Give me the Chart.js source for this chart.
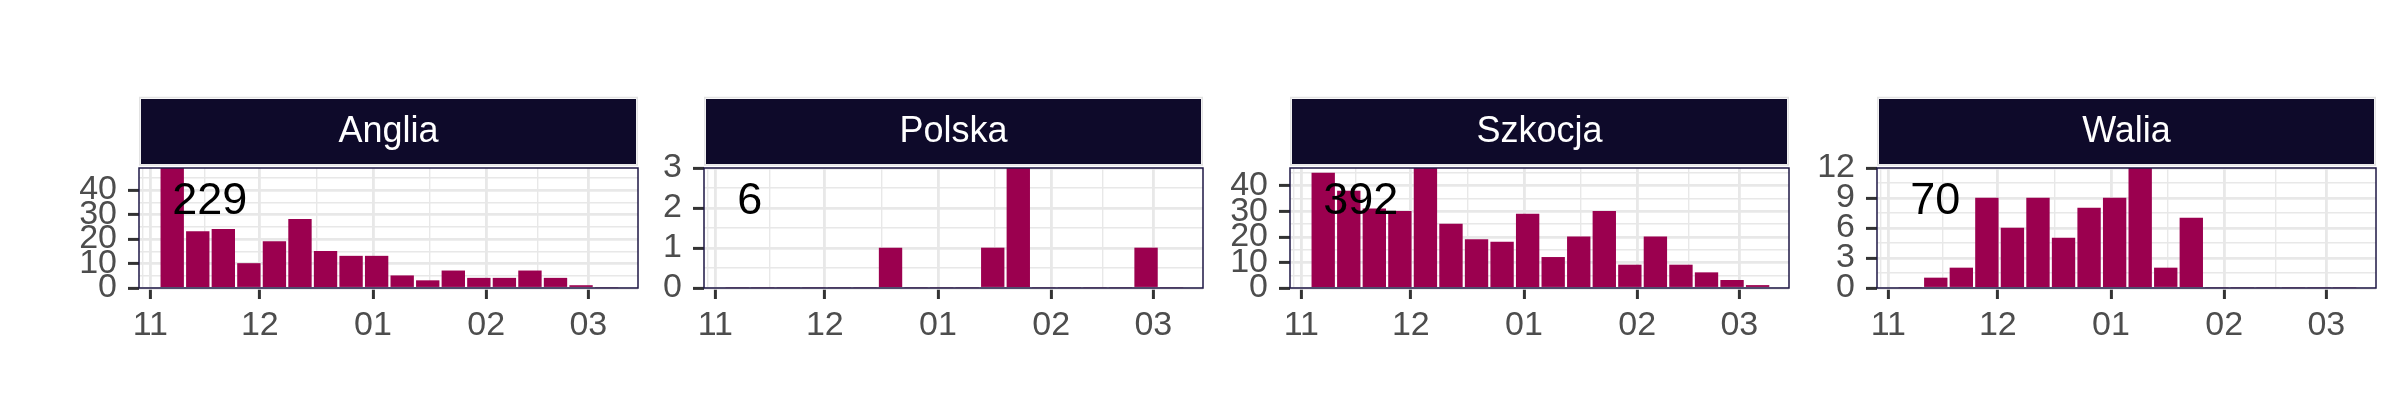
<!DOCTYPE html>
<html>
<head>
<meta charset="utf-8">
<script src="https://cdn.jsdelivr.net/npm/chart.js@4.4.1/dist/chart.umd.min.js"></script>
<style>
	html, body { margin: 0; padding: 0; background: #fff; }
	body { width: 2400px; height: 420px; position: relative; overflow: hidden; }
	canvas { position: absolute; top: 90px; }
</style>
</head>
<body>
<script>
// facets
const countries = ['Anglia', 'Polska', 'Szkocja', 'Walia']
// weekly bins (middle day of each week)
const weekMids = [
	'2020-11-07', '2020-11-14', '2020-11-21', '2020-11-28', '2020-12-05', '2020-12-12',
	'2020-12-19', '2020-12-26', '2021-01-02', '2021-01-09', '2021-01-16', '2021-01-23',
	'2021-01-30', '2021-02-06', '2021-02-13', '2021-02-20', '2021-02-27', '2021-03-06',
]
// counts per week
const anglia = [49, 23, 24, 10, 19, 28, 15, 13, 13, 5, 3, 7, 4, 4, 7, 4, 1, 0]
const polska = [0, 0, 0, 0, 0, 0, 1, 0, 0, 0, 1, 3, 0, 0, 0, 0, 1, 0]
const szkocja = [45, 38, 31, 30, 47, 25, 19, 18, 29, 12, 20, 30, 9, 20, 9, 6, 3, 1]
const walia = [0, 1, 2, 9, 6, 9, 5, 8, 9, 12, 2, 7, 0, 0, 0, 0, 0, 0]
const totals = [229, 6, 392, 70]

// axis ticks
const monthTicks = ['2020-11-01', '2020-12-01', '2021-01-01', '2021-02-01', '2021-03-01']
const monthLabels = ['11', '12', '01', '02', '03']
const xStart = '2020-10-29'
const yTicksAnglia = [0, 10, 20, 30, 40]
const yTicksPolska = [0, 1, 2, 3]
const yTicksSzkocja = [0, 10, 20, 30, 40]
const yTicksWalia = [0, 3, 6, 9, 12]

const font = '"Liberation Sans", Arial, sans-serif'
const barColor = '#9b004f'
const gridColor = '#e8e8e8'

function dayOf(s) {
	return (Date.parse(s + 'T00:00:00Z') - Date.parse(monthTicks[0] + 'T00:00:00Z')) / 86400000
}

const xMajor = monthTicks.map(dayOf)
// minor gridlines half way between months, plus the one ggplot left near the edge
const xMinor = [dayOf(xStart) + 1].concat(xMajor.slice(1).map((v, i) => (v + xMajor[i]) / 2))
const xMin = dayOf(xStart) - 0.1
const xMax = 133.6

function minorOf(ticks, max) {
	const step = ticks[1] - ticks[0]
	return ticks.map(t => t + step / 2).filter(t => t <= max)
}

// strip, panel border and the total label
const panelDeco = {
	id: 'panelDeco',
	afterDatasetsDraw(chart, args, opts) {
		const { ctx, chartArea: a, scales } = chart
		ctx.save()
		ctx.strokeStyle = '#1e1745'
		ctx.lineWidth = 1.5
		ctx.strokeRect(a.left, a.top, a.right - a.left, a.bottom - a.top)
		// strip
		ctx.strokeStyle = '#e3e3e3'
		ctx.strokeRect(a.left + 0.75, a.top - 70.5, a.right - a.left - 1.5, 67.5)
		ctx.fillStyle = '#0e0a2a'
		ctx.fillRect(a.left + 2, a.top - 69, a.right - a.left - 4, 65)
		ctx.fillStyle = '#ffffff'
		ctx.font = `36px ${font}`
		ctx.textAlign = 'center'
		ctx.textBaseline = 'middle'
		ctx.fillText(opts.title, (a.left + a.right) / 2, a.top - 36)
		// total
		ctx.fillStyle = '#000000'
		ctx.font = `45px ${font}`
		ctx.textAlign = 'left'
		ctx.fillText(opts.total, scales.x.getPixelForValue(dayOf(weekMids[0])), scales.y.getPixelForValue(opts.labelY))
		ctx.restore()
	},
}

function drawPanel(idx, values, yTicks, left) {
	const canvas = document.createElement('canvas')
	canvas.width = 579
	canvas.height = 270
	canvas.style.left = `${left - 70}px`
	document.body.appendChild(canvas)
	const yMax = Math.max(...values)
	const yMinor = minorOf(yTicks, yMax)
	const yAll = yTicks.concat(yMinor).sort((a, b) => a - b)
	const xAll = xMinor.concat(xMajor).sort((a, b) => a - b)

	new Chart(canvas, {
		type: 'bar',
		data: {
			datasets: [
				{
					data: weekMids.map((d, i) => ({ x: dayOf(d), y: values[i] })),
					backgroundColor: barColor,
					borderWidth: 0,
					barThickness: 22.7,
				},
			],
		},
		options: {
			responsive: false,
			animation: false,
			events: [],
			layout: { padding: { left: 0, right: 10, top: 78, bottom: 0 } },
			plugins: {
				legend: { display: false },
				tooltip: { enabled: false },
				panelDeco: { title: countries[idx], total: totals[idx], labelY: yMax * 0.72 },
			},
			scales: {
				x: {
					type: 'linear',
					min: xMin,
					max: xMax,
					offset: false,
					border: { display: false },
					grid: {
						offset: false,
						color: gridColor,
						lineWidth: c => (xMajor.includes(c.tick.value) ? 2.8 : 1.4),
						tickLength: 11,
						tickWidth: 3,
						tickColor: c => (xMajor.includes(c.tick.value) ? '#333333' : 'rgba(0,0,0,0)'),
					},
					ticks: {
						autoSkip: false,
						maxRotation: 0,
						padding: 6,
						color: '#4d4d4d',
						font: { family: font, size: 34 },
						callback: v => {
							const i = xMajor.indexOf(v)
							return i >= 0 ? monthLabels[i] : ''
						},
					},
					afterBuildTicks: s => {
						s.ticks = xAll.map(v => ({ value: v }))
					},
					afterFit: s => {
						s.height = 72
					},
				},
				y: {
					min: 0,
					max: yMax,
					border: { display: false },
					grid: {
						color: gridColor,
						lineWidth: c => (yTicks.includes(c.tick.value) ? 2.8 : 1.4),
						tickLength: 11,
						tickWidth: 3,
						tickColor: c => (yTicks.includes(c.tick.value) ? '#333333' : 'rgba(0,0,0,0)'),
					},
					ticks: {
						autoSkip: false,
						padding: 11,
						color: '#4d4d4d',
						font: { family: font, size: 34 },
						callback: v => (yTicks.includes(v) ? String(v) : ''),
					},
					afterBuildTicks: s => {
						s.ticks = yAll.map(v => ({ value: v }))
					},
					afterFit: s => {
						s.width = 70
					},
				},
			},
		},
		plugins: [panelDeco],
	})
}

drawPanel(0, anglia, yTicksAnglia, 139)
drawPanel(1, polska, yTicksPolska, 704)
drawPanel(2, szkocja, yTicksSzkocja, 1290)
drawPanel(3, walia, yTicksWalia, 1877)
</script>
</body>
</html>
